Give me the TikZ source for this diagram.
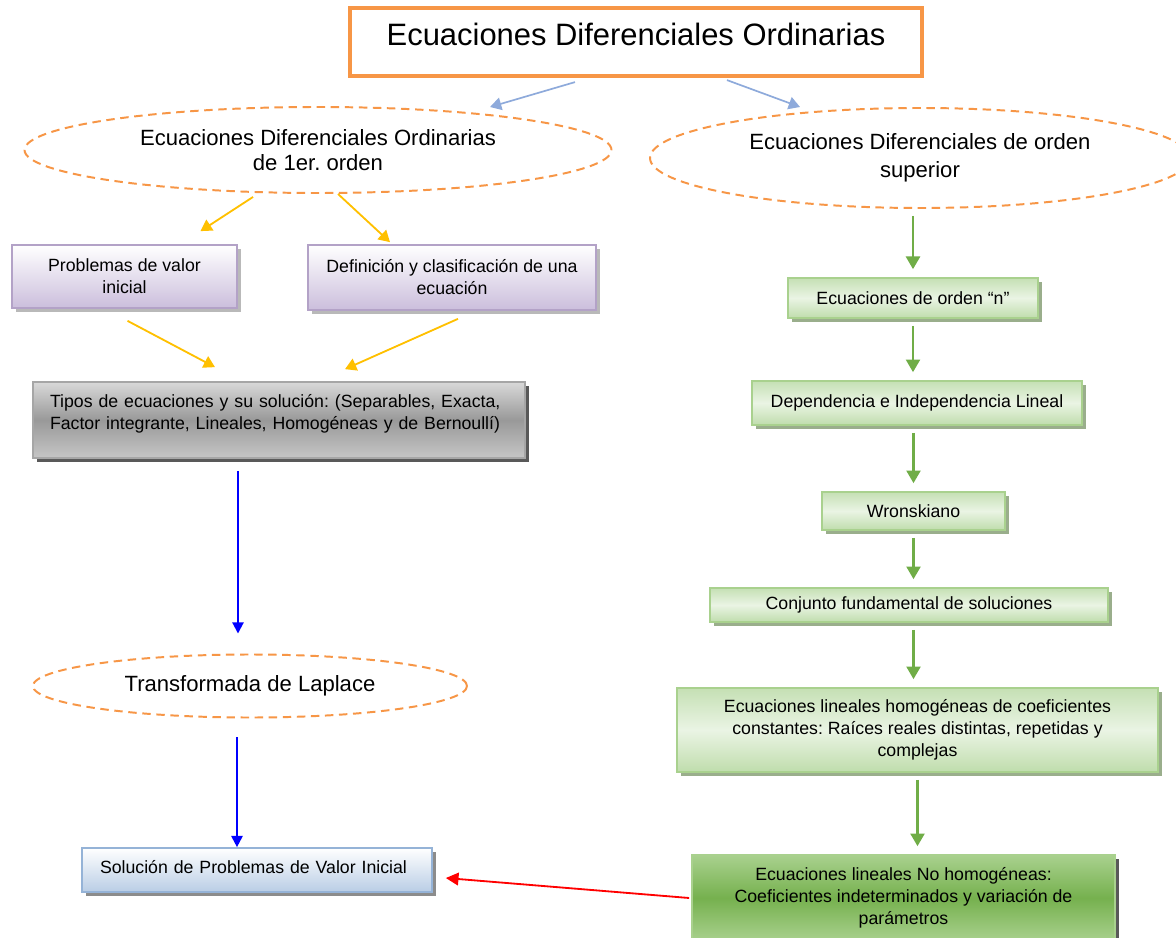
\documentclass[tikz,border=0pt]{standalone}
\usepackage{fontspec}
\setmainfont{Liberation Sans}
\usepackage{xcolor}
\usetikzlibrary{positioning,arrows.meta,shapes.geometric,shadows,calc}

\definecolor{naranja}{HTML}{F79646}
\definecolor{azulflecha}{HTML}{8EAADB}
\definecolor{ambar}{HTML}{FFC000}
\definecolor{lavanda}{HTML}{CBBEDC}
\definecolor{lavborde}{HTML}{B3A2C7}
\definecolor{celeste}{HTML}{B9CDE5}
\definecolor{celborde}{HTML}{95B3D7}
\definecolor{verdeclaro}{HTML}{C5E0B4}
\definecolor{verdepalido}{HTML}{EAF4E4}
\definecolor{verdeborde}{HTML}{A9D18E}
\definecolor{verdeflecha}{HTML}{70AD47}
\definecolor{sombraverde}{HTML}{9AAE8C}

\newlength\pxu
\setlength\pxu{0.025cm}
\frenchspacing

\begin{document}
\begin{tikzpicture}[
    x=0.025cm, y=-0.025cm,
    titulo/.style={rectangle, draw=naranja, line width=3pt, fill=white, minimum width=572\pxu, minimum height=68\pxu, font=\fontsize{22}{26}\selectfont},
    elipse/.style={ellipse, draw=naranja, line width=1.4pt, dash pattern=on 6pt off 4pt, inner sep=0pt, align=center, font=\fontsize{15.7}{17.8}\selectfont},
    caja/.style={rectangle, align=center, line width=1.2pt, inner sep=0pt, font=\fontsize{12.6}{15.6}\selectfont},
    lila/.style={caja, draw=lavborde, top color=white, bottom color=lavanda, drop shadow={shadow xshift=3pt, shadow yshift=-3pt, fill=gray!55, opacity=1}},
    gris/.style={caja, draw=gray!70, top color=gray!30, bottom color=gray!45, middle color=gray!80, drop shadow={shadow xshift=3pt, shadow yshift=-3pt, fill=gray!130, opacity=1}},
    celestebox/.style={caja, draw=celborde, top color=white, bottom color=celeste, drop shadow={shadow xshift=3pt, shadow yshift=-3pt, fill=gray!90, opacity=1}},
    verde/.style={caja, draw=verdeborde, top color=verdeclaro, bottom color=verdeclaro!80!verdeborde, middle color=verdepalido, drop shadow={shadow xshift=3pt, shadow yshift=-3pt, fill=sombraverde, opacity=1}},
    verdeosc/.style={caja, draw=verdeborde, top color=verdeborde, bottom color=verdeborde, middle color=verdeflecha!90!verdeborde, drop shadow={shadow xshift=3pt, shadow yshift=-3pt, fill=gray!130, opacity=1}},
    flechaazul/.style={draw=azulflecha, line width=1.2pt, -{Triangle[length=8pt,width=9pt]}},
    flechaamar/.style={draw=ambar, line width=1.3pt, -{Triangle[length=8pt,width=9pt]}},
    flechaverde/.style={draw=verdeflecha, line width=1.6pt, -{Triangle[length=9pt,width=10pt]}, shorten <=7\pxu, shorten >=8\pxu},
    flechablue/.style={draw=blue, line width=1.4pt, -{Triangle[length=8pt,width=8pt]}},
    flecharoja/.style={draw=red, line width=1.3pt, -{Triangle[length=9pt,width=9pt]}}
]
\useasboundingbox (0,0) rectangle (1176,938);
\fill[white] (0,0) rectangle (1176,938);

% parte superior
\node[titulo, text depth=11pt] (titulo) at (636,42) {Ecuaciones Diferenciales Ordinarias};
\node[elipse, minimum width=587\pxu, minimum height=86\pxu] (edo1) at (318,150) {Ecuaciones Diferenciales Ordinarias\\de 1er. orden};
\node[elipse, minimum width=540\pxu, minimum height=100\pxu, font=\fontsize{15.7}{20}\selectfont] (edosup) at (920,158) {Ecuaciones Diferenciales de orden\\superior};

\draw[flechaazul] ($(titulo.south)+(-61,4)$) -- ($(edo1.north)+(172,1)$);
\draw[flechaazul] ($(titulo.south)+(91,2)$) -- ($(edosup.north)+(-120,0)$);

% columna izquierda
\node[lila, minimum width=225\pxu, minimum height=63\pxu] (pvi) at (124.5,276.5) {Problemas de valor\\inicial};
\node[lila, minimum width=288\pxu, minimum height=65\pxu] (defin) at (452,277.5) {Definición y clasificación de una\\ecuación};
\node[gris, minimum width=492\pxu, minimum height=76\pxu, align=left, text width=458\pxu, text depth=27pt] (tipos) at (279,420) {Tipos de ecuaciones y su solución: (Separables, Exacta,\\Factor integrante, Lineales, Homogéneas y de Bernoullí)};
\node[elipse, minimum width=434\pxu, minimum height=63\pxu] (laplace) at (250,686) {Transformada de Laplace};
\node[celestebox, minimum width=350\pxu, minimum height=44\pxu, align=left, text width=314\pxu, text depth=5pt] (solpvi) at (257,870) {Solución de Problemas de Valor Inicial};

\draw[flechaamar] ($(edo1.south)+(-65,3)$) -- ($(pvi.north)+(76,-13)$);
\draw[flechaamar] ($(edo1.south)+(20,0)$) -- ($(defin.north)+(-62,-2)$);
\draw[flechaamar] ($(pvi.south)+(3,12)$) -- ($(tipos.north)+(-64,-14)$);
\draw[flechaamar] ($(defin.south)+(6,8)$) -- ($(tipos.north)+(66,-12)$);
\draw[flechablue] ($(tipos.south)+(-41,12)$) -- ($(laplace.north)+(-12,-20)$);
\draw[flechablue] ($(laplace.south)+(-13,19)$) -- ($(solpvi.north)+(-20,0)$);

% columna derecha
\node[verde, minimum width=250\pxu, minimum height=40\pxu] (ordn) at (913,298) {Ecuaciones de orden “n”};
\node[verde, minimum width=330\pxu, minimum height=44\pxu] (depind) at (917,403) {Dependencia e Independencia Lineal};
\node[verde, minimum width=183\pxu, minimum height=38\pxu] (wrons) at (913.5,511) {Wronskiano};
\node[verde, minimum width=398\pxu, minimum height=34\pxu] (conjfund) at (909,605) {Conjunto fundamental de soluciones};
\node[verde, minimum width=481\pxu, minimum height=84\pxu] (homog) at (917.5,730) {Ecuaciones lineales homogéneas de coeficientes\\constantes: Raíces reales distintas, repetidas y\\complejas};
\node[verdeosc, minimum width=423\pxu, minimum height=86\pxu] (nohomog) at (903.5,898) {Ecuaciones lineales No homogéneas:\\Coeficientes indeterminados y variación de\\parámetros};

\draw[flechaverde] (ordn.north |- edosup.south) -- (ordn.north);
\draw[flechaverde] (ordn.south) -- (ordn.south |- depind.north);
\draw[flechaverde] (wrons.north |- depind.south) -- (wrons.north);
\draw[flechaverde] (wrons.south) -- (wrons.south |- conjfund.north);
\draw[flechaverde] (wrons.south |- conjfund.south) -- (wrons.south |- homog.north);
\draw[flechaverde] (homog.south) -- (homog.south |- nohomog.north);

\draw[flecharoja] ($(nohomog.west)+(-2,0)$) -- ($(solpvi.east)+(13,8)$);
\end{tikzpicture}
\end{document}
